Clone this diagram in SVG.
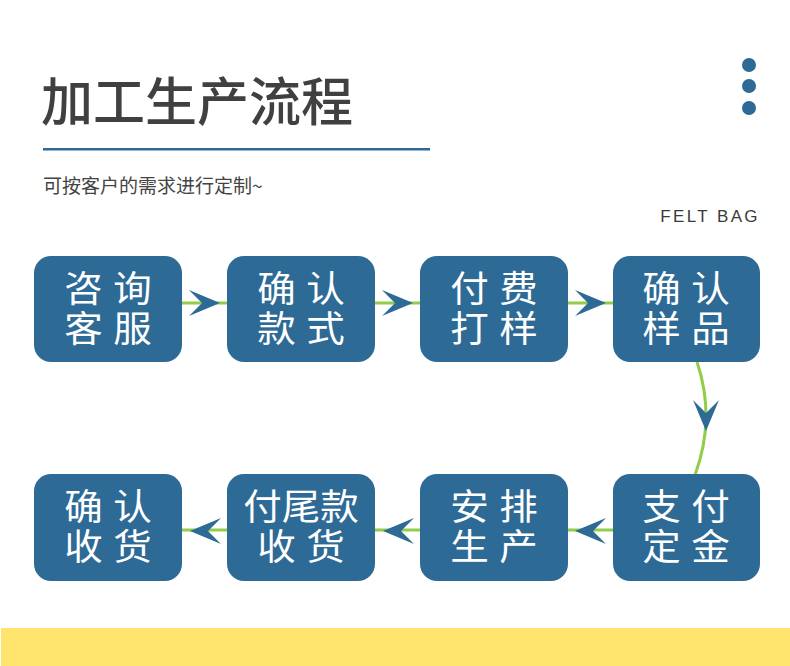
<svg xmlns="http://www.w3.org/2000/svg" width="790" height="666" viewBox="0 0 790 666">
<style>
.cjk{font-family:"Noto Sans CJK SC","Noto Sans",sans-serif}
.box{fill:#2d6a96}
.bt{fill:#ffffff;font-size:36px;text-anchor:middle;font-family:"Liberation Sans","Noto Sans CJK SC",sans-serif}
.ln{stroke:#92cc48;stroke-width:3;fill:none}
.ah{fill:#2d6a96}
.dot{fill:#2d6a96}
</style>
<defs>
<path id="ah" d="M0,0 L-31,-13 L-18,0 L-31,13 Z"/>
</defs>
<rect width="790" height="666" fill="#ffffff"/>
<text class="cjk" x="41" y="121" font-size="52" font-weight="500" fill="#404040">加工生产流程</text>
<rect x="43" y="148" width="387" height="2.5" fill="#2d6a96"/>
<text class="cjk" x="43" y="193" font-size="19" fill="#444444">可按客户的需求进行定制~</text>
<circle class="dot" cx="749" cy="65" r="7"/>
<circle class="dot" cx="749" cy="86" r="7"/>
<circle class="dot" cx="749" cy="108" r="7"/>
<text x="760" y="222" font-family="'Liberation Sans',sans-serif" font-size="17" letter-spacing="2.4" text-anchor="end" fill="#3a3a3a">FELT BAG</text>
<g id="connectors">
<line class="ln" x1="181" y1="303" x2="228" y2="303"/>
<line class="ln" x1="374" y1="303" x2="421" y2="303"/>
<line class="ln" x1="567" y1="303" x2="614" y2="303"/>
<path class="ln" d="M697,362 Q716,418 695,475"/>
<line class="ln" x1="181" y1="530" x2="228" y2="530"/>
<line class="ln" x1="374" y1="530" x2="421" y2="530"/>
<line class="ln" x1="567" y1="530" x2="614" y2="530"/>
<use href="#ah" class="ah" transform="translate(220,303)"/>
<use href="#ah" class="ah" transform="translate(413,303)"/>
<use href="#ah" class="ah" transform="translate(606,303)"/>
<use href="#ah" class="ah" transform="translate(706,431) rotate(90)"/>
<use href="#ah" class="ah" transform="translate(575,531) rotate(180)"/>
<use href="#ah" class="ah" transform="translate(383,531) rotate(180)"/>
<use href="#ah" class="ah" transform="translate(190,531) rotate(180)"/>
</g>
<g id="n1"><rect class="box" x="34" y="256" width="148" height="106" rx="17"/><text class="bt" transform="translate(108,0) scale(1.07,1)"><tspan x="0" y="302">咨 询</tspan><tspan x="0" y="342">客 服</tspan></text></g>
<g id="n2"><rect class="box" x="227" y="256" width="148" height="106" rx="17"/><text class="bt" transform="translate(301,0) scale(1.07,1)"><tspan x="0" y="302">确 认</tspan><tspan x="0" y="342">款 式</tspan></text></g>
<g id="n3"><rect class="box" x="420" y="256" width="148" height="106" rx="17"/><text class="bt" transform="translate(494,0) scale(1.07,1)"><tspan x="0" y="302">付 费</tspan><tspan x="0" y="342">打 样</tspan></text></g>
<g id="n4"><rect class="box" x="613" y="256" width="147" height="106" rx="17"/><text class="bt" transform="translate(686,0) scale(1.07,1)"><tspan x="0" y="302">确 认</tspan><tspan x="0" y="342">样 品</tspan></text></g>
<g id="n5"><rect class="box" x="613" y="474" width="147" height="107" rx="17"/><text class="bt" transform="translate(686,0) scale(1.07,1)"><tspan x="0" y="520">支 付</tspan><tspan x="0" y="560">定 金</tspan></text></g>
<g id="n6"><rect class="box" x="420" y="474" width="148" height="107" rx="17"/><text class="bt" transform="translate(494,0) scale(1.07,1)"><tspan x="0" y="520">安 排</tspan><tspan x="0" y="560">生 产</tspan></text></g>
<g id="n7"><rect class="box" x="227" y="474" width="148" height="107" rx="17"/><text class="bt" transform="translate(301,0) scale(1.07,1)"><tspan x="0" y="520">付尾款</tspan><tspan x="0" y="560">收 货</tspan></text></g>
<g id="n8"><rect class="box" x="34" y="474" width="148" height="107" rx="17"/><text class="bt" transform="translate(108,0) scale(1.07,1)"><tspan x="0" y="520">确 认</tspan><tspan x="0" y="560">收 货</tspan></text></g>
<rect x="1" y="628" width="789" height="38" fill="#ffe46e"/>
</svg>
